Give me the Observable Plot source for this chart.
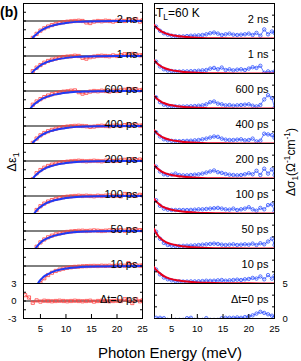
<!DOCTYPE html>
<html><head><meta charset="utf-8">
<script src="https://cdn.jsdelivr.net/npm/d3@7"></script>
<script src="https://cdn.jsdelivr.net/npm/@observablehq/plot@0.6"></script>
<style>
body{margin:0;background:#fff;}
#wrap{position:relative;width:301px;height:361px;overflow:hidden;font-family:Arial,"Liberation Sans",sans-serif;color:#000;}
#left,#right{position:absolute;top:0;}
#left{left:0}
#right{left:150px}
.abs{position:absolute;white-space:nowrap;line-height:1;}
.rot{transform:translate(-50%,-50%) rotate(-90deg);}
sub,sup{font-size:70%;line-height:0;}
</style></head><body>
<div id="wrap">
 <div id="left"></div><div id="right"></div>
 <div class="abs" style="left:0;top:5px;font-weight:bold;font-size:14px">(b)</div>
 <div class="abs" style="left:156px;top:7px;font-size:12px">T<sub>L</sub>=60 K</div>
 <div class="abs rot" style="left:11px;top:162px;font-size:13px">Δε<sub>1</sub></div>
 <div class="abs rot" style="left:291px;top:162px;font-size:12px">Δσ<sub>1</sub>(Ω<sup>-1</sup>cm<sup>-1</sup>)</div>
 <div class="abs" style="left:170px;top:352px;font-size:15px;transform:translate(-50%,-50%)">Photon Energy (meV)</div>
</div>
<script>
const delays = ["2 ns","1 ns","600 ps","400 ps","200 ps","100 ps","50 ps","10 ps","Δt=0 ps"];
const fitDelays = delays.slice(0, 8);
const xTicks = [5, 10, 15, 20, 25];
const epsTickLabels = [-3, 0, 3];
const sigTickLabels = [0, 5];

// photon energies of the measured points (meV)
const dataE = [2.0, 2.75, 3.5, 4.25, 5.0, 5.75, 6.5, 7.25, 8.0, 8.75, 9.5, 10.25, 11.0, 11.75, 12.5, 13.25,
  14.0, 14.75, 15.5, 16.25, 17.0, 17.75, 18.5, 19.25, 20.0, 20.75, 21.5, 22.25, 23.0, 23.75, 24.5, 25.0];

// Δε1 measured (one row per delay)
const epsData = [
  [-8, -5, -2.9, -2.2, -1.65, -1.25, -0.95, -0.7, -0.5, -0.35, -0.22, -0.12, -0.05, 0, 0.05, 0, -0.25, -0.35, -0.1, 0, -0.05, 0.05, 0, -0.1, 0.05, 0.1, 0, 0.2, 0.1, 0.3, -0.1, 0.1],
  [-7, -4, -2.6, -2.0, -1.55, -1.15, -0.85, -0.62, -0.45, -0.3, -0.18, -0.1, -0.05, 0.05, 0, -0.3, -0.45, -0.2, -0.1, 0, 0.05, 0, -0.05, 0.1, 0, 0.15, 0.3, 0.2, 0.35, 0.25, 0.1, 0.15],
  [-5.5, -3.3, -2.35, -1.8, -1.4, -1.05, -0.78, -0.55, -0.38, -0.25, -0.12, -0.05, 0.05, 0.1, -0.2, -0.45, -0.3, -0.1, 0, -0.05, 0.05, 0, -0.1, 0.05, 0, 0.1, 0.2, 0.35, 0.25, 0.3, 0.1, 0.2],
  [-8, -5, -2.9, -2.15, -1.6, -1.2, -0.9, -0.66, -0.47, -0.32, -0.2, -0.1, -0.03, 0.02, 0.05, 0, -0.05, -0.15, -0.1, 0, 0.05, 0, -0.05, 0.05, 0.1, 0, 0.15, 0.25, 0.1, 0.2, 0.05, 0.1],
  [-8, -5.5, -3.1, -2.1, -1.55, -1.15, -0.85, -0.62, -0.45, -0.3, -0.2, -0.12, -0.05, 0, 0.05, 0, -0.05, 0, 0.05, 0, -0.05, 0.05, 0.1, 0, 0.05, 0.1, 0.2, 0.05, 0.3, 0.15, 0.25, 0.1],
  [-9, -6, -3.5, -2.4, -1.75, -1.3, -0.95, -0.7, -0.5, -0.35, -0.22, -0.12, -0.05, 0, 0.05, 0, 0.05, 0, -0.05, 0.05, 0, 0.05, 0.1, 0, 0.05, -0.05, 0.35, 0.25, 0.1, 0.05, 0.2, 0.1],
  [-9, -7, -4, -2.7, -1.95, -1.45, -1.08, -0.8, -0.58, -0.42, -0.28, -0.16, -0.08, -0.02, 0.03, 0.05, 0, 0.05, 0.1, 0.05, 0, 0.05, 0.1, 0.05, 0.1, 0.15, 0.05, 0.2, 0.1, 0.25, 0.15, 0.1],
  [-10, -8, -6, -4, -2.9, -2.1, -1.55, -1.15, -0.85, -0.62, -0.45, -0.32, -0.22, -0.15, -0.1, -0.05, -0.02, 0, 0.02, 0, 0.05, 0.02, 0.05, 0, 0.05, 0.1, 0.05, 0.5, 0.15, 0.1, 0.05, 0.1],
  [1.0, 0.6, -0.3, 0.1, -0.1, 0.05, 0, -0.05, 0, 0.05, 0, -0.05, 0, 0.05, 0, -0.05, 0, 0.05, -0.1, 0, 0.05, 0, -0.05, 0, 0.05, 0, 0.3, 0.1, -0.35, 0.3, -0.05, 0.1]
];

// Δε1 fit
const epsFitE = [2.5, 3, 3.5, 4, 4.5, 5, 5.5, 6, 7, 8, 9, 10, 12, 14, 17, 20, 25];
const epsFit = [
  [-6, -4.2, -2.9, -2.45, -2.05, -1.7, -1.42, -1.2, -0.88, -0.64, -0.46, -0.33, -0.15, -0.07, -0.03, -0.01, 0],
  [-5.5, -3.6, -2.7, -2.3, -1.95, -1.62, -1.36, -1.15, -0.85, -0.62, -0.45, -0.32, -0.15, -0.07, -0.03, -0.01, 0],
  [-4.2, -3.1, -2.5, -2.15, -1.82, -1.52, -1.28, -1.08, -0.8, -0.58, -0.42, -0.3, -0.14, -0.07, -0.03, -0.01, 0],
  [-6, -4.2, -2.9, -2.45, -2.05, -1.7, -1.42, -1.2, -0.88, -0.64, -0.46, -0.33, -0.15, -0.07, -0.03, -0.01, 0],
  [-6, -4.4, -3.05, -2.5, -2.1, -1.75, -1.46, -1.23, -0.9, -0.66, -0.48, -0.34, -0.16, -0.08, -0.03, -0.01, 0],
  [-6.5, -5, -3.5, -2.75, -2.25, -1.86, -1.55, -1.3, -0.95, -0.7, -0.5, -0.36, -0.17, -0.08, -0.03, -0.01, 0],
  [-7, -5.5, -4, -3.1, -2.45, -2.0, -1.66, -1.4, -1.02, -0.75, -0.55, -0.4, -0.19, -0.09, -0.04, -0.01, 0],
  [-8, -6.5, -5, -3.8, -3.0, -2.4, -1.95, -1.62, -1.15, -0.8, -0.58, -0.42, -0.24, -0.14, -0.08, -0.03, 0]
];

// Δσ1 measured (Ω^-1 cm^-1)
const sigData = [
  [1.7, 1.1, 0.75, 0.55, 0.4, 0.33, 0.3, 0.3, 0.35, 0.4, 0.42, 0.45, 0.5, 0.6, 0.75, 0.85, 0.7, 0.5, 0.6, 0.7, 0.55, 0.5, 0.55, 0.6, 0.7, 0.5, 0.8, 0.4, 1.3, 0.6, 1.0, 0.8],
  [1.7, 1.0, 0.6, 0.42, 0.35, 0.3, 0.28, 0.3, 0.3, 0.33, 0.35, 0.4, 0.45, 0.5, 0.7, 0.8, 0.6, 0.85, 0.5, 0.6, 0.45, 0.55, 0.6, 0.5, 0.7, 0.9, 0.8, 1.1, 0.1, 0.3, 0.15, 0.3],
  [1.6, 0.9, 0.55, 0.4, 0.33, 0.3, 0.28, 0.28, 0.3, 0.32, 0.35, 0.4, 0.45, 0.6, 0.9, 1.0, 0.7, 0.6, 0.45, 0.5, 0.4, 0.45, 0.5, 0.55, 0.6, 0.4, 0.3, 0.5, 1.3, 1.9, 1.5, 0.1],
  [1.6, 1.0, 0.6, 0.45, 0.38, 0.35, 0.33, 0.35, 0.38, 0.4, 0.45, 0.5, 0.6, 0.7, 0.85, 1.0, 0.95, 0.7, 0.55, 0.5, 0.5, 0.55, 0.6, 0.45, 0.5, 0.7, 0.3, 0.4, 1.4, 1.3, 1.2, 0.8],
  [1.7, 1.0, 0.6, 0.5, 0.55, 0.7, 0.5, 0.45, 0.45, 0.5, 0.55, 0.6, 0.7, 0.85, 1.0, 1.15, 0.9, 0.8, 0.65, 0.55, 0.5, 0.45, 0.5, 0.6, 0.75, 0.6, 1.1, 0.5, 1.4, 0.7, 1.3, 0.5],
  [1.9, 1.1, 0.7, 0.55, 0.5, 0.5, 0.5, 0.5, 0.5, 0.52, 0.55, 0.6, 0.6, 0.65, 0.7, 0.75, 0.8, 0.7, 0.6, 0.55, 0.7, 0.5, 0.6, 0.7, 0.9, 0.6, 0.4, 0.8, 0.6, 1.2, 1.3, 0.3],
  [2.4, 1.4, 0.8, 0.5, 0.4, 0.35, 0.35, 0.38, 0.4, 0.42, 0.45, 0.5, 0.55, 0.6, 0.65, 0.7, 0.65, 0.55, 0.5, 0.55, 0.6, 0.5, 0.55, 0.6, 0.55, 0.7, 0.5, 0.75, 0.6, 1.0, 1.4, 0.5],
  [2.0, 1.3, 0.85, 0.6, 0.45, 0.35, 0.3, 0.28, 0.28, 0.3, 0.3, 0.32, 0.35, 0.4, 0.38, 0.4, 0.45, 0.5, 0.4, 0.45, 0.5, 0.55, 0.5, 0.6, 0.65, 0.8, 0.7, 1.0, 0.6, 1.2, 0.7, 1.1],
  [0.1, 0.1, 0.05, -0.2, -0.2, -0.2, -0.2, -0.2, 0.05, 0.1, -0.2, -0.2, -0.2, 0.05, -0.2, -0.2, -0.2, 0.05, 0.1, 0.1, 0.1, 0.15, 0.1, 0.2, 0.3, 0.45, 0.7, 0.95, 0.8, 0.6, 0.4, 0.2]
];

// Δσ1 fit
const sigFitE = [1.6, 2, 2.5, 3, 3.5, 4, 5, 6, 7, 8, 10, 12, 15, 20, 25];
const sigFit = [
  [1.95, 1.6, 1.3, 1.02, 0.84, 0.7, 0.5, 0.37, 0.27, 0.2, 0.1, 0.05, 0.02, 0.01, 0],
  [1.9, 1.55, 1.25, 1.0, 0.82, 0.68, 0.48, 0.35, 0.26, 0.19, 0.1, 0.05, 0.02, 0.01, 0],
  [1.8, 1.5, 1.2, 0.95, 0.78, 0.64, 0.45, 0.33, 0.24, 0.18, 0.09, 0.05, 0.02, 0.01, 0],
  [1.9, 1.55, 1.25, 1.0, 0.82, 0.68, 0.48, 0.35, 0.26, 0.19, 0.1, 0.05, 0.02, 0.01, 0],
  [1.95, 1.6, 1.3, 1.02, 0.84, 0.7, 0.5, 0.37, 0.27, 0.2, 0.1, 0.05, 0.02, 0.01, 0],
  [2.1, 1.72, 1.38, 1.1, 0.9, 0.75, 0.53, 0.39, 0.29, 0.21, 0.11, 0.06, 0.02, 0.01, 0],
  [2.8, 2.2, 1.7, 1.35, 1.08, 0.88, 0.62, 0.45, 0.33, 0.24, 0.13, 0.07, 0.03, 0.01, 0],
  [2.35, 1.95, 1.6, 1.3, 1.06, 0.88, 0.62, 0.46, 0.35, 0.27, 0.16, 0.1, 0.05, 0.02, 0]
];

function tidy(es, rows, names) {
  return rows.flatMap((r, i) => r.map((v, j) => ({delay: names[i], e: es[j], v})));
}
const epsD = tidy(dataE, epsData, delays);
const epsF = tidy(epsFitE, epsFit, fitDelays);
const sigD = tidy(dataE, sigData, delays);
const sigF = tidy(sigFitE, sigFit, fitDelays);

const fmt = d => String(d);
const font = "Arial, 'Liberation Sans', sans-serif";
const common = {
  height: 341, marginTop: 0, marginBottom: 20,
  style: {fontFamily: font, fontSize: "9.5px", background: "transparent", color: "#000"},
  x: {domain: [1.68, 25]},
  fy: {domain: delays, padding: 0, axis: null}
};

const left = Plot.plot({
  ...common,
  width: 150, marginLeft: 23, marginRight: 8,
  y: {domain: [-3, 3]},
  marks: [
    Plot.ruleY([0], {stroke: "#000", strokeWidth: 1}),
    Plot.line(epsD, {x: "e", y: "v", fy: "delay", stroke: "#ff5050", strokeWidth: 0.8, clip: true}),
    Plot.dot(epsD, {x: "e", y: "v", fy: "delay", symbol: "square", r: 1.8, stroke: "#ff4040", strokeWidth: 0.8, fill: "none", clip: true}),
    Plot.line(epsF, {x: "e", y: "v", fy: "delay", stroke: "#1f3af5", strokeWidth: 2, curve: "monotone-x", clip: true}),
    Plot.axisX({ticks: xTicks, tickSize: -4, fill: "none", label: null}),
    Plot.axisX({ticks: xTicks, tickSize: 0, tickPadding: 7, tickFormat: fmt, label: null}),
    Plot.axisY({ticks: [-1.5, 0, 1.5], anchor: "left", tickSize: -3, fill: "none", label: null}),
    Plot.axisY({ticks: [-1.5, 0, 1.5], anchor: "right", tickSize: -3, fill: "none", label: null}),
    Plot.axisY({ticks: epsTickLabels, anchor: "left", tickSize: 0, tickPadding: 7, tickFormat: fmt, facetAnchor: "bottom", label: null}),
    Plot.text(delays, {fy: d => d, text: d => d, frameAnchor: "top-right", textAnchor: "end", dx: -5, dy: 11.5, fontSize: 11}),
    Plot.frame({stroke: "#000"})
  ]
});
document.getElementById("left").append(left);

const right = Plot.plot({
  ...common,
  width: 151, marginLeft: 4, marginRight: 27,
  y: {domain: [0, 5]},
  marks: [
    Plot.frame({stroke: "#000"}),
    Plot.line(sigD, {x: "e", y: "v", fy: "delay", stroke: "#3a58ff", strokeWidth: 0.8, clip: true}),
    Plot.dot(sigD, {x: "e", y: "v", fy: "delay", symbol: "circle", r: 1.7, stroke: "#2f50ff", strokeWidth: 0.8, fill: "none", clip: true}),
    Plot.line(sigF, {x: "e", y: "v", fy: "delay", stroke: "#e8001c", strokeWidth: 2, curve: "monotone-x", clip: true}),
    Plot.axisX({ticks: xTicks, tickSize: -4, fill: "none", label: null}),
    Plot.axisX({ticks: xTicks, tickSize: 0, tickPadding: 7, tickFormat: fmt, label: null}),
    Plot.axisY({ticks: [5 / 3, 10 / 3], anchor: "left", tickSize: -3, fill: "none", label: null}),
    Plot.axisY({ticks: [5 / 3, 10 / 3], anchor: "right", tickSize: -3, fill: "none", label: null}),
    Plot.axisY({ticks: sigTickLabels, anchor: "right", tickSize: 0, tickPadding: 8, tickFormat: fmt, facetAnchor: "bottom", label: null}),
    Plot.text(delays, {fy: d => d, text: d => d, frameAnchor: "top-right", textAnchor: "end", dx: -6, dy: 11.5, fontSize: 11})
  ]
});
document.getElementById("right").append(right);
</script>
</body></html>
